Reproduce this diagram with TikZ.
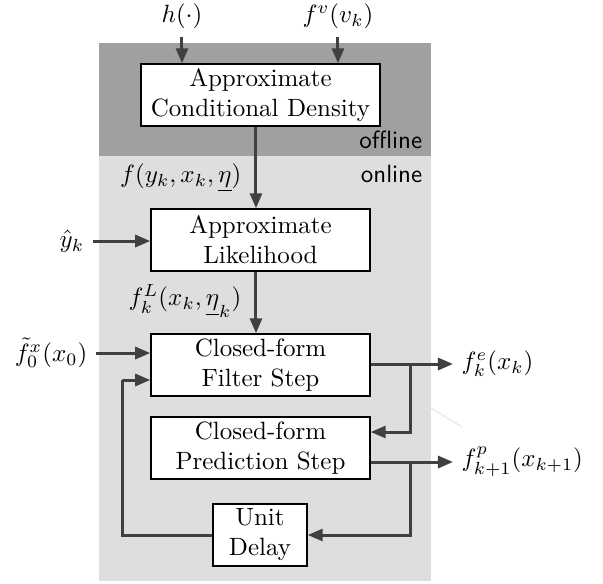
\documentclass[tikz,border=0pt]{standalone}
\usetikzlibrary{arrows.meta,calc}
\definecolor{offlinegrey}{HTML}{A0A0A0}
\definecolor{onlinegrey}{HTML}{DEDEDE}
\definecolor{wiregrey}{HTML}{404040}
\begin{document}
\begin{tikzpicture}[x=0.4pt,y=-0.4pt,
  blk/.style={draw=black, line width=0.6pt, fill=white, align=center,
              inner sep=0pt, minimum height=24.8pt},
  flow/.style={draw=wiregrey, line width=1.2pt,
               -{Triangle[length=6pt,width=4.8pt]}},
  lbl/.style={inner sep=3.3pt}]
\useasboundingbox (0,0) rectangle (603,583);

% offline / online bands
\fill[offlinegrey] (99,43) rectangle (431,156);
\fill[onlinegrey] (99,156) rectangle (431,581);
\draw[onlinegrey, line width=0.3pt] (431,408) -- (462,427);

% blocks
\node[blk, minimum width=95.6pt] (cond)  at (260.5,95)  {Approximate\\Conditional Density};
\node[blk, minimum width=87.6pt] (lik)   at (260.5,240) {Approximate\\Likelihood};
\node[blk, minimum width=87.6pt] (filt)  at (260.5,365) {Closed-form\\Filter Step};
\node[blk, minimum width=87.6pt] (pred)  at (260.5,448) {Closed-form\\Prediction Step};
\node[blk, minimum width=37.6pt] (delay) at (260,535)   {Unit\\Delay};

% band labels
\node[anchor=base east, lbl, font=\sffamily] (offl) at (431,148) {offline};
\node[anchor=base east, lbl, font=\sffamily] (onl)  at (431,182) {online};

% signal labels
\node[lbl] (h)  at (182,16) {$h(\cdot)$};
\node[lbl] (fv) at (338,16) {$f^v(v_k)$};
\node[lbl, anchor=east] (fyx) at (250,178) {$f(y_k,x_k,\underline{\eta})$};
\node[lbl, anchor=east] (fL)  at (250,301) {$f_k^L(x_k,\underline{\eta}_k)$};
\node[lbl] (yh) at (72,241) {$\hat{y}_k$};
\node[lbl] (f0) at (51,353) {$\tilde{f}_0^x(x_0)$};
\node[lbl, anchor=west] (fe) at (453,364) {$f_k^e(x_k)$};
\node[lbl, anchor=west] (fp) at (453,462) {$f_{k+1}^p(x_{k+1})$};

% helper points for the wiring
\coordinate (mid) at (256,0);
\coordinate (b1) at (411,364);
\coordinate (b2) at (411,462);
\coordinate (fb) at (123,380);

% inputs
\draw[flow] (h.south) -- (cond.north -| h);
\draw[flow] (fv.south) -- (cond.north -| fv);
\draw[flow] (cond.south -| mid) -- (lik.north -| mid);
\draw[flow] (yh.east) -- (yh.east -| lik.west);
\draw[flow] (lik.south -| mid) -- (filt.north -| mid);
\draw[flow] (f0.east) -- (f0.east -| filt.west);

% outputs and loop
\draw[flow] (filt.east |- fe.west) -- (fe.west);
\draw[flow] (b1) |- ([yshift=6.4pt]pred.east);
\draw[flow] (pred.east |- fp.west) -- (fp.west);
\draw[flow] (b2) |- (delay.east);
\draw[flow] (delay.west) -| (fb) |- ([yshift=-6pt]filt.west);
\end{tikzpicture}
\end{document}
